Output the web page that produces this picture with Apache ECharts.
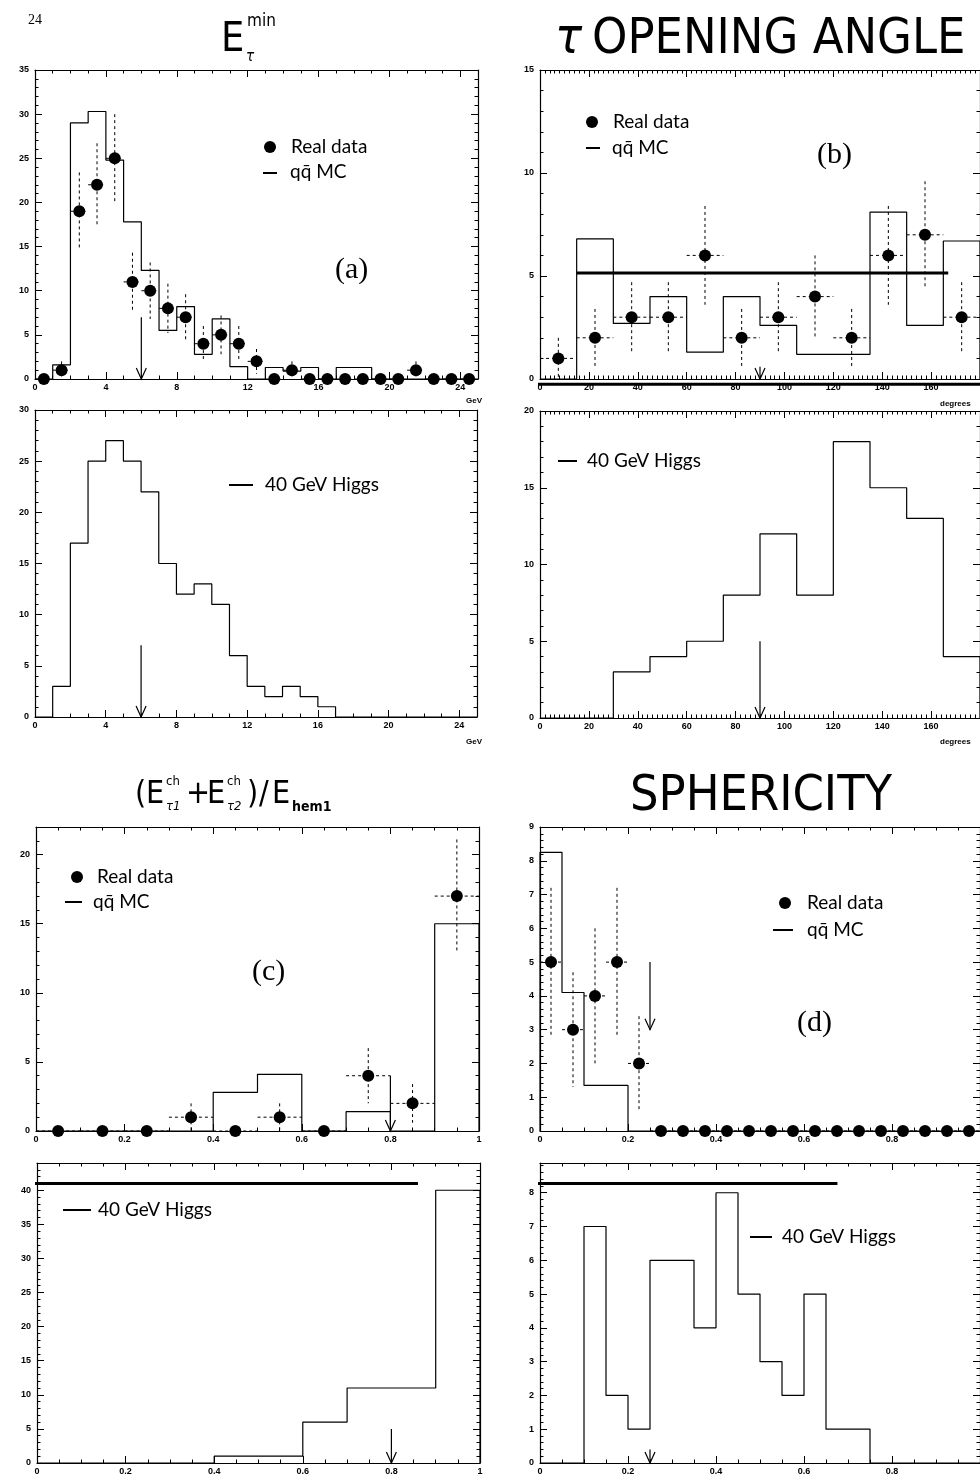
<!DOCTYPE html>
<html>
<head>
<meta charset="utf-8">
<script src="https://cdn.jsdelivr.net/npm/echarts@6/dist/echarts.min.js"></script>
<style>
html, body { margin: 0; background: #fff; }
#chart { width: 980px; height: 1476px; }
</style>
</head>
<body>
<div id="chart"></div>
<script>
// (a) E_tau^min, 25 bins of 1 GeV from 0
const eMinData = [0, 1, 19, 22, 25, 11, 10, 8, 7, 4, 5, 4, 2, 0, 1, 0, 0, 0, 0, 0, 0, 1, 0, 0, 0]
const eMinErr = [0, 1, 4.4, 4.7, 5, 3.3, 3.2, 2.8, 2.6, 2, 2.2, 2, 1.4, 0, 1, 0, 0, 0, 0, 0, 0, 1, 0, 0, 0]
const eMinMC = [0, 1.6, 29, 30.3, 24.8, 17.8, 12.3, 5.5, 8.2, 2.8, 6.8, 1.4, 0, 1.3, 0.9, 1.3, 0, 1.3, 1.3, 0, 0, 0, 0, 0, 0]
const eMinHiggs = [0, 3, 17, 25, 27, 25, 22, 15, 12, 13, 11, 6, 3, 2, 3, 2, 1, 0, 0, 0, 0, 0, 0, 0, 0]

// (b) tau opening angle, 12 bins of 15 degrees from 0
const angleData = [1, 2, 3, 3, 6, 2, 3, 4, 2, 6, 7, 3]
const angleErr = [1, 1.4, 1.7, 1.7, 2.4, 1.4, 1.7, 2, 1.4, 2.4, 2.6, 1.7]
const angleMC = [0, 6.8, 2.7, 4.0, 1.3, 4.0, 2.6, 1.2, 1.2, 8.1, 2.6, 6.7]
const angleHiggs = [0, 0, 3, 4, 5, 8, 12, 8, 18, 15, 13, 4]

// (c) (E1ch+E2ch)/Ehem1, 10 bins of 0.1 from 0
const fracData = [0, 0, 0, 1, 0, 1, 0, 4, 2, 17]
const fracErr = [0, 0, 0, 1, 0, 1, 0, 2, 1.4, 4.1]
const fracMC = [0, 0, 0, 0, 2.8, 4.1, 0, 1.4, 0, 15]
const fracHiggs = [0, 0, 0, 0, 1, 1, 6, 11, 11, 40]

// (d) sphericity, 20 bins of 0.05 from 0
const sphData = [5, 3, 4, 5, 2, 0, 0, 0, 0, 0, 0, 0, 0, 0, 0, 0, 0, 0, 0, 0]
const sphErr = [2.2, 1.7, 2, 2.2, 1.4, 0, 0, 0, 0, 0, 0, 0, 0, 0, 0, 0, 0, 0, 0, 0]
const sphMC = [8.25, 4.1, 1.35, 1.35, 0, 0, 0, 0, 0, 0, 0, 0, 0, 0, 0, 0, 0, 0, 0, 0]
const sphHiggs = [0, 0, 7, 2, 1, 6, 6, 4, 8, 5, 3, 2, 5, 1, 1, 0, 0, 0, 0, 0]

// cut arrows: [x, from, to]
const eMinCutTop = [6, 7, 0]
const eMinCutBot = [6, 7, 0]
const angleCutTop = [90, 0.6, 0]
const angleCutBot = [90, 5, 0]
const fracCutTop = [0.8, 4, 0]
const fracCutBot = [0.8, 5, 0]
const sphCutTop = [0.25, 5, 3]
const sphCutBot = [0.25, 0.4, 0]

// stray thick lines printed on the page: [level, from, to]
const angleFlat = [5.15, 15, 167]
const angleBase = [-0.25, -8, 190]
const fracFlat = [41, -0.03, 0.86]
const sphFlat = [8.27, -0.04, 0.676]

const grid = []
const xAxis = []
const yAxis = []
const series = []
const tickFont = { color: '#000', fontSize: 9, fontWeight: 'bold', fontFamily: 'Liberation Sans' }

function axisPair (g, r, horiz) {
  const base = {
    gridIndex: g,
    type: 'value',
    min: r[0],
    max: r[1],
    interval: r[2],
    splitLine: { show: false },
    axisLine: { onZero: false, lineStyle: { color: '#000', width: 1.2 } },
    axisTick: { inside: true, length: 7, lineStyle: { color: '#000', width: 1 } },
    minorTick: { show: true, splitNumber: r[3], length: 3.5, lineStyle: { color: '#000', width: 1 } }
  }
  return [
    { ...base, position: horiz ? 'bottom' : 'left', axisLabel: { ...tickFont, margin: horiz ? 4 : 6, showMaxLabel: r[4] } },
    { ...base, position: horiz ? 'top' : 'right', axisLabel: { show: false } }
  ]
}

function addPanel (rect, xr, yr) {
  const g = grid.length
  grid.push({ left: rect[0], top: rect[1], width: rect[2], height: rect[3], show: false })
  xAxis.push(...axisPair(g, xr, true))
  yAxis.push(...axisPair(g, yr, false))
  return g
}

function stepData (x0, w, vals) {
  const pts = [[x0, 0]]
  vals.forEach((v, i) => pts.push([x0 + i * w, v]))
  pts.push([x0 + vals.length * w, vals[vals.length - 1]])
  pts.push([x0 + vals.length * w, 0])
  return pts
}

function hist (g, x0, w, vals) {
  series.push({
    type: 'line', xAxisIndex: 2 * g, yAxisIndex: 2 * g, step: 'end', symbol: 'none',
    lineStyle: { color: '#000', width: 1.2 }, data: stepData(x0, w, vals), silent: true
  })
}

function renderErr (params, api) {
  const x = api.value(0)
  const y = api.value(1)
  const e = api.value(2)
  const hw = api.value(3)
  const style = { stroke: '#000', lineWidth: 1, lineDash: [3, 3], fill: null }
  const l = api.coord([x - hw, y])
  const r = api.coord([x + hw, y])
  const kids = [{ type: 'line', shape: { x1: l[0], y1: l[1], x2: r[0], y2: r[1] }, style }]
  if (e > 0) {
    const t = api.coord([x, y + e])
    const b = api.coord([x, y - e])
    kids.push({ type: 'line', shape: { x1: t[0], y1: t[1], x2: b[0], y2: b[1] }, style })
  }
  return { type: 'group', children: kids }
}

function points (g, x0, w, vals, errs) {
  const cx = vals.map((v, i) => x0 + (i + 0.5) * w)
  series.push({
    type: 'custom', xAxisIndex: 2 * g, yAxisIndex: 2 * g, renderItem: renderErr, silent: true,
    data: vals.map((v, i) => [cx[i], v, errs[i], w / 2])
  })
  series.push({
    type: 'scatter', xAxisIndex: 2 * g, yAxisIndex: 2 * g, symbolSize: 12, clip: false, z: 5,
    itemStyle: { color: '#000', opacity: 1 }, data: vals.map((v, i) => [cx[i], v]), silent: true
  })
}

function renderArrow (params, api) {
  const top = api.coord([api.value(0), api.value(1)])
  const tip = api.coord([api.value(0), api.value(2)])
  const s = { stroke: '#000', lineWidth: 1.2, fill: null }
  return {
    type: 'group',
    children: [
      { type: 'line', shape: { x1: top[0], y1: top[1], x2: tip[0], y2: tip[1] }, style: s },
      { type: 'polyline', shape: { points: [[tip[0] - 5, tip[1] - 11], tip, [tip[0] + 5, tip[1] - 11]] }, style: s }
    ]
  }
}

function arrow (g, a) {
  series.push({
    type: 'custom', xAxisIndex: 2 * g, yAxisIndex: 2 * g, renderItem: renderArrow, silent: true, data: [a]
  })
}

function flat (g, f) {
  series.push({
    type: 'line', xAxisIndex: 2 * g, yAxisIndex: 2 * g, symbol: 'none', clip: false, silent: true,
    lineStyle: { color: '#000', width: 3 }, data: [[f[1], f[0]], [f[2], f[0]]]
  })
}

// panels: [left, top, width, height], x/y: [min, max, interval, minor splits, show max label]
const pA1 = addPanel([35, 70, 443, 309], [0, 25, 4, 4, false], [0, 35, 5, 5, true])
const pA2 = addPanel([35, 410, 442, 307], [0, 25, 4, 4, false], [0, 30, 5, 5, true])
const pB1 = addPanel([540, 70, 441, 309], [0, 180, 20, 10, false], [0, 15, 5, 5, true])
const pB2 = addPanel([540, 411, 441, 307], [0, 180, 20, 10, false], [0, 20, 5, 5, true])
const pC1 = addPanel([36, 827, 443, 304], [0, 1, 0.2, 4, true], [0, 22, 5, 5, false])
const pC2 = addPanel([37, 1163, 443, 301], [0, 1, 0.2, 4, true], [0, 44, 5, 5, false])
const pD1 = addPanel([540, 827, 441, 304], [0, 1, 0.2, 4, false], [0, 9, 1, 5, true])
const pD2 = addPanel([540, 1163, 441, 301], [0, 1, 0.2, 4, false], [0, 8.88, 1, 5, false])

hist(pA1, 0, 1, eMinMC)
points(pA1, 0, 1, eMinData, eMinErr)
arrow(pA1, eMinCutTop)
hist(pA2, 0, 1, eMinHiggs)
arrow(pA2, eMinCutBot)

hist(pB1, 0, 15, angleMC)
points(pB1, 0, 15, angleData, angleErr)
arrow(pB1, angleCutTop)
flat(pB1, angleFlat)
flat(pB1, angleBase)
hist(pB2, 0, 15, angleHiggs)
arrow(pB2, angleCutBot)

hist(pC1, 0, 0.1, fracMC)
points(pC1, 0, 0.1, fracData, fracErr)
arrow(pC1, fracCutTop)
hist(pC2, 0, 0.1, fracHiggs)
arrow(pC2, fracCutBot)
flat(pC2, fracFlat)

hist(pD1, 0, 0.05, sphMC)
points(pD1, 0, 0.05, sphData, sphErr)
arrow(pD1, sphCutTop)
hist(pD2, 0, 0.05, sphHiggs)
arrow(pD2, sphCutBot)
flat(pD2, sphFlat)

const narrow = '"Liberation Sans Narrow", "DejaVu Sans Condensed", "Liberation Sans", sans-serif'
const legendFont = '19px Lato, "Open Sans", sans-serif'
const serif = '"Liberation Serif", "DejaVu Serif", serif'

function txt (x, y, text, font, align) {
  return {
    type: 'text', x, y, silent: true,
    style: { text, font, fill: '#000', textAlign: align || 'left', textVerticalAlign: 'middle' }
  }
}
function dot (x, y) {
  return { type: 'circle', silent: true, shape: { cx: x, cy: y, r: 6 }, style: { fill: '#000' } }
}
function dash (x1, x2, y) {
  return { type: 'line', silent: true, shape: { x1, y1: y, x2, y2: y }, style: { stroke: '#000', lineWidth: 2 } }
}

const graphic = [
  txt(28, 20, '24', '14px ' + serif),
  txt(221, 40, 'E', '41px ' + narrow),
  txt(247, 22, 'min', '17px ' + narrow),
  txt(246, 57, 'τ', 'italic 15px ' + narrow),
  txt(555, 40, 'τ', 'italic 50px ' + narrow),
  txt(592, 40, 'OPENING ANGLE', '50px ' + narrow),
  txt(630, 797, 'SPHERICITY', '50px ' + narrow),

  txt(135, 795, '(', '32px ' + narrow),
  txt(146, 795, 'E', '32px ' + narrow),
  txt(166, 782, 'ch', '13px ' + narrow),
  txt(166, 807, 'τ1', 'italic 13px ' + narrow),
  txt(186, 795, '+', '32px ' + narrow),
  txt(207, 795, 'E', '32px ' + narrow),
  txt(227, 782, 'ch', '13px ' + narrow),
  txt(227, 807, 'τ2', 'italic 13px ' + narrow),
  txt(247, 795, ')', '32px ' + narrow),
  txt(259, 795, '/', '32px ' + narrow),
  txt(272, 795, 'E', '32px ' + narrow),
  txt(292, 807, 'hem1', 'bold 14px ' + narrow),

  txt(466, 401, 'GeV', 'bold 8px "Liberation Sans"'),
  txt(466, 742, 'GeV', 'bold 8px "Liberation Sans"'),
  txt(940, 404, 'degrees', 'bold 8px "Liberation Sans"'),
  txt(940, 742, 'degrees', 'bold 8px "Liberation Sans"'),

  dot(270, 147), txt(291, 147, 'Real data', legendFont),
  dash(263, 277, 173), txt(290, 172, 'qq̄ MC', legendFont),
  txt(335, 270, '(a)', '30px ' + serif),
  dash(229, 253, 485), txt(265, 485, '40 GeV Higgs', legendFont),

  dot(592, 122), txt(613, 122, 'Real data', legendFont),
  dash(586, 600, 148), txt(612, 148, 'qq̄ MC', legendFont),
  txt(817, 155, '(b)', '30px ' + serif),
  dash(558, 577, 461), txt(587, 461, '40 GeV Higgs', legendFont),

  dot(77, 877), txt(97, 877, 'Real data', legendFont),
  dash(65, 82, 902), txt(93, 902, 'qq̄ MC', legendFont),
  txt(252, 972, '(c)', '30px ' + serif),
  dash(63, 91, 1210), txt(98, 1210, '40 GeV Higgs', legendFont),

  dot(785, 903), txt(807, 903, 'Real data', legendFont),
  dash(773, 793, 930), txt(807, 930, 'qq̄ MC', legendFont),
  txt(797, 1023, '(d)', '30px ' + serif),
  dash(750, 772, 1237), txt(782, 1237, '40 GeV Higgs', legendFont)
]

const chart = echarts.init(document.getElementById('chart'))
chart.setOption({
  animation: false,
  backgroundColor: '#fff',
  grid,
  xAxis,
  yAxis,
  series,
  graphic
})
</script>
</body>
</html>
